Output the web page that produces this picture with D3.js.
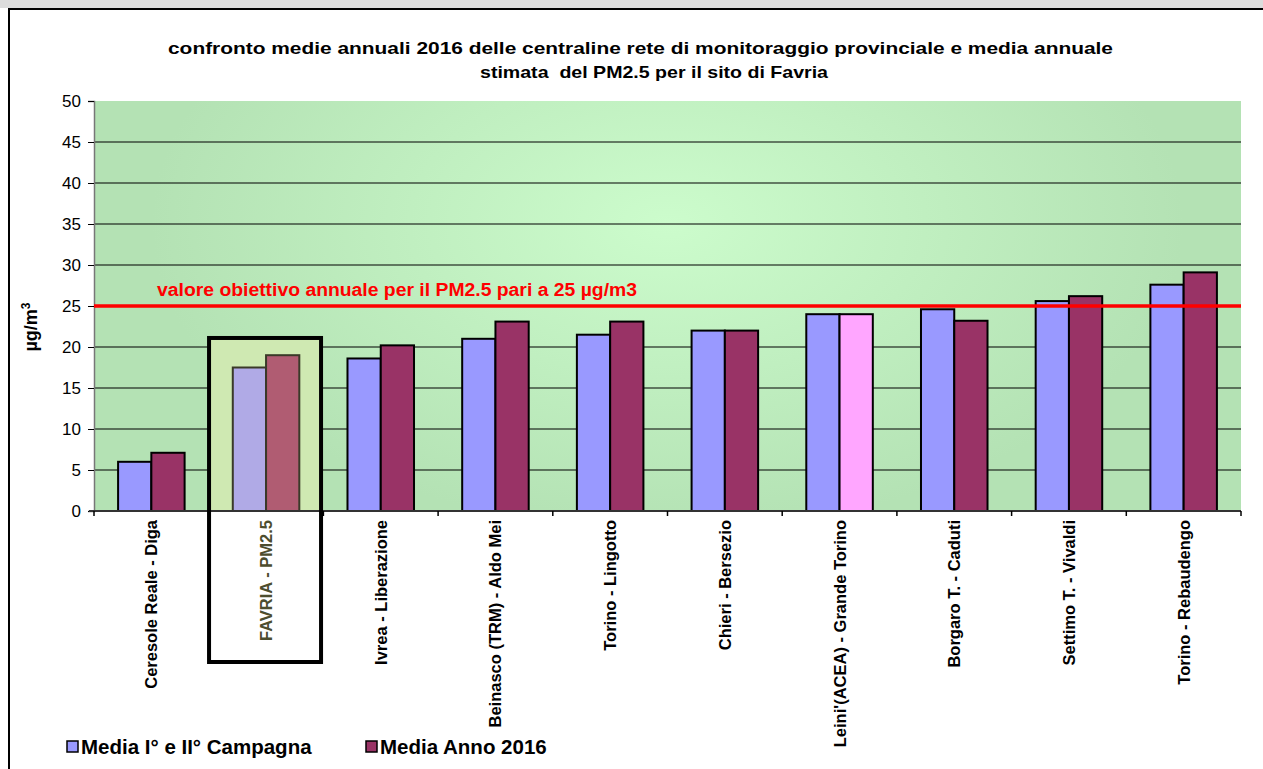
<!DOCTYPE html>
<html><head><meta charset="utf-8">
<script src="https://cdn.jsdelivr.net/npm/d3@7"></script>
<style>body{margin:0;background:#fff}svg{display:block;font-family:"Liberation Sans",Arial,sans-serif}</style>
</head><body>
<svg id="c" width="1263" height="769"></svg>
<script>
const categories = ["Ceresole Reale - Diga","FAVRIA - PM2.5","Ivrea - Liberazione","Beinasco (TRM) - Aldo Mei","Torino - Lingotto","Chieri - Bersezio","Leini'(ACEA) - Grande Torino","Borgaro T. - Caduti","Settimo T. - Vivaldi","Torino - Rebaudengo"];
const campagna = [6, 17.5, 18.6, 21, 21.5, 22, 24, 24.6, 25.6, 27.6];
const anno2016 = [7.1, 19, 20.2, 23.1, 23.1, 22, 24, 23.2, 26.2, 29.1];
const seriesNames = ["Media I° e II° Campagna","Media Anno 2016"];
const yTicks = [0,5,10,15,20,25,30,35,40,45,50];
const target = 25;
const highlightTop = 21.1;

const svg = d3.select("#c");
const M = {l:94, r:1241, t:101, b:511};
const x = d3.scaleBand().domain(categories).range([M.l, M.r]).paddingInner(0.42).paddingOuter(0.21);
const x1 = d3.scaleBand().domain([0,1]).range([0, x.bandwidth()]);
const y = d3.scaleLinear().domain([0,50]).range([M.b, M.t]);

// frame
svg.append("rect").attr("x",0).attr("y",0).attr("width",1263).attr("height",8).attr("fill","#dcdcdc");
svg.append("path").attr("d","M9,769V9H1263").attr("fill","none").attr("stroke","#000").attr("stroke-width",2);

// background gradient
const defs = svg.append("defs");
const g = defs.append("radialGradient").attr("id","bg").attr("cx","0.5").attr("cy","0.3").attr("r","0.75")
  .attr("gradientTransform","translate(0.5,0.3) scale(0.6,1) translate(-0.5,-0.3)");
g.append("stop").attr("offset","0%").attr("stop-color","#ccfccc");
g.append("stop").attr("offset","100%").attr("stop-color","#b4e2b4");
svg.append("rect").attr("x",M.l).attr("y",M.t).attr("width",M.r-M.l).attr("height",M.b-M.t).attr("fill","url(#bg)");

// gridlines
svg.append("g").selectAll("line").data(yTicks.filter(d=>d>0&&d<50)).join("line")
  .attr("x1",M.l).attr("x2",M.r).attr("y1",d=>y(d)).attr("y2",d=>y(d)).attr("stroke","#000").attr("stroke-width",1);

// highlight box fill for FAVRIA
const fav = categories[1];
const hbW = 112;
const hbX = x(fav) + x.bandwidth()/2 - hbW/2 - 1;
svg.append("rect").attr("x",hbX).attr("y",y(highlightTop)).attr("width",hbW).attr("height",M.b-y(highlightTop))
  .attr("fill","#cfe9b2");

// bars
const colA = (i)=> i===1 ? "#b0aae6" : "#9999ff";
const colB = (i)=> i===1 ? "#b05c72" : (i===6 ? "#ffa6ff" : "#993366");
const bars = svg.append("g");
categories.forEach((c,i)=>{
  const sc = i===1 ? "#3a3a28" : "#000";
  bars.append("rect").attr("x",x(c)+x1(0)).attr("y",y(campagna[i])).attr("width",x1.bandwidth()).attr("height",M.b-y(campagna[i]))
    .attr("fill",colA(i)).attr("stroke",sc).attr("stroke-width",2);
  bars.append("rect").attr("x",x(c)+x1(1)).attr("y",y(anno2016[i])).attr("width",x1.bandwidth()).attr("height",M.b-y(anno2016[i]))
    .attr("fill",colB(i)).attr("stroke",sc).attr("stroke-width",2);
});

// axes
const ya = svg.append("g").attr("transform",`translate(${M.l},0)`)
  .call(d3.axisLeft(y).tickValues(yTicks).tickSize(6).tickPadding(7));
ya.select(".domain").attr("stroke","#777").attr("stroke-width",1.5);
ya.selectAll(".tick line").attr("stroke","#000");
ya.selectAll("text").attr("font-size",17).attr("fill","#000").attr("font-family","Liberation Sans, Arial");

svg.append("line").attr("x1",M.l-5).attr("x2",M.r).attr("y1",M.b).attr("y2",M.b).attr("stroke","#333").attr("stroke-width",2);
svg.append("g").selectAll("line").data(d3.range(categories.length+1)).join("line")
  .attr("x1",d=>M.l+d*x.step()).attr("x2",d=>M.l+d*x.step()).attr("y1",M.b).attr("y2",M.b+5).attr("stroke","#000").attr("stroke-width",1.5);

// x labels
svg.append("g").selectAll("text").data(categories).join("text")
  .attr("transform",c=>`translate(${x(c)+x.bandwidth()/2+6},520) rotate(-90)`)
  .attr("text-anchor","end").attr("font-size",16.5).attr("font-weight","bold")
  .attr("fill",(c,i)=> i===1 ? "#4d4d2e" : "#000").text(c=>c);

// highlight box outline
svg.append("rect").attr("x",hbX).attr("y",y(highlightTop)).attr("width",hbW).attr("height",662-y(highlightTop))
  .attr("fill","none").attr("stroke","#000").attr("stroke-width",4);

// target line
svg.append("line").attr("x1",M.l).attr("x2",M.r).attr("y1",y(target)).attr("y2",y(target)).attr("stroke","#ff0000").attr("stroke-width",3.5);
svg.append("text").attr("x",157).attr("y",y(target)-10).attr("fill","#ff0000").attr("font-weight","bold").attr("font-size",18)
  .attr("textLength",480).attr("lengthAdjust","spacingAndGlyphs")
  .text("valore obiettivo annuale per il PM2.5 pari a 25 µg/m3");

// title
svg.append("text").attr("x",168).attr("y",54).attr("font-weight","bold").attr("font-size",17)
  .attr("textLength",945).attr("lengthAdjust","spacingAndGlyphs")
  .text("confronto medie annuali 2016 delle centraline rete di monitoraggio provinciale e media annuale");
svg.append("text").attr("x",480).attr("y",78).attr("font-weight","bold").attr("font-size",17)
  .attr("textLength",348).attr("lengthAdjust","spacingAndGlyphs")
  .attr("xml:space","preserve").text("stimata  del PM2.5 per il sito di Favria");

// y title
const yt = svg.append("text").attr("transform","translate(37,327) rotate(-90)").attr("text-anchor","middle")
  .attr("font-weight","bold").attr("font-size",18);
yt.append("tspan").text("µg/m");
yt.append("tspan").attr("dy",-7).attr("font-size",12).text("3");

// legend
const leg = svg.append("g");
const legX = [67, 366];
seriesNames.forEach((s,i)=>{
  leg.append("rect").attr("x",legX[i]).attr("y",741).attr("width",11).attr("height",11)
    .attr("fill", i===0 ? "#9999ff" : "#993366").attr("stroke","#000").attr("stroke-width",1.5);
  leg.append("text").attr("x",legX[i]+14).attr("y",754).attr("font-weight","bold").attr("font-size",20.5).text(s);
});
</script>
</body></html>
